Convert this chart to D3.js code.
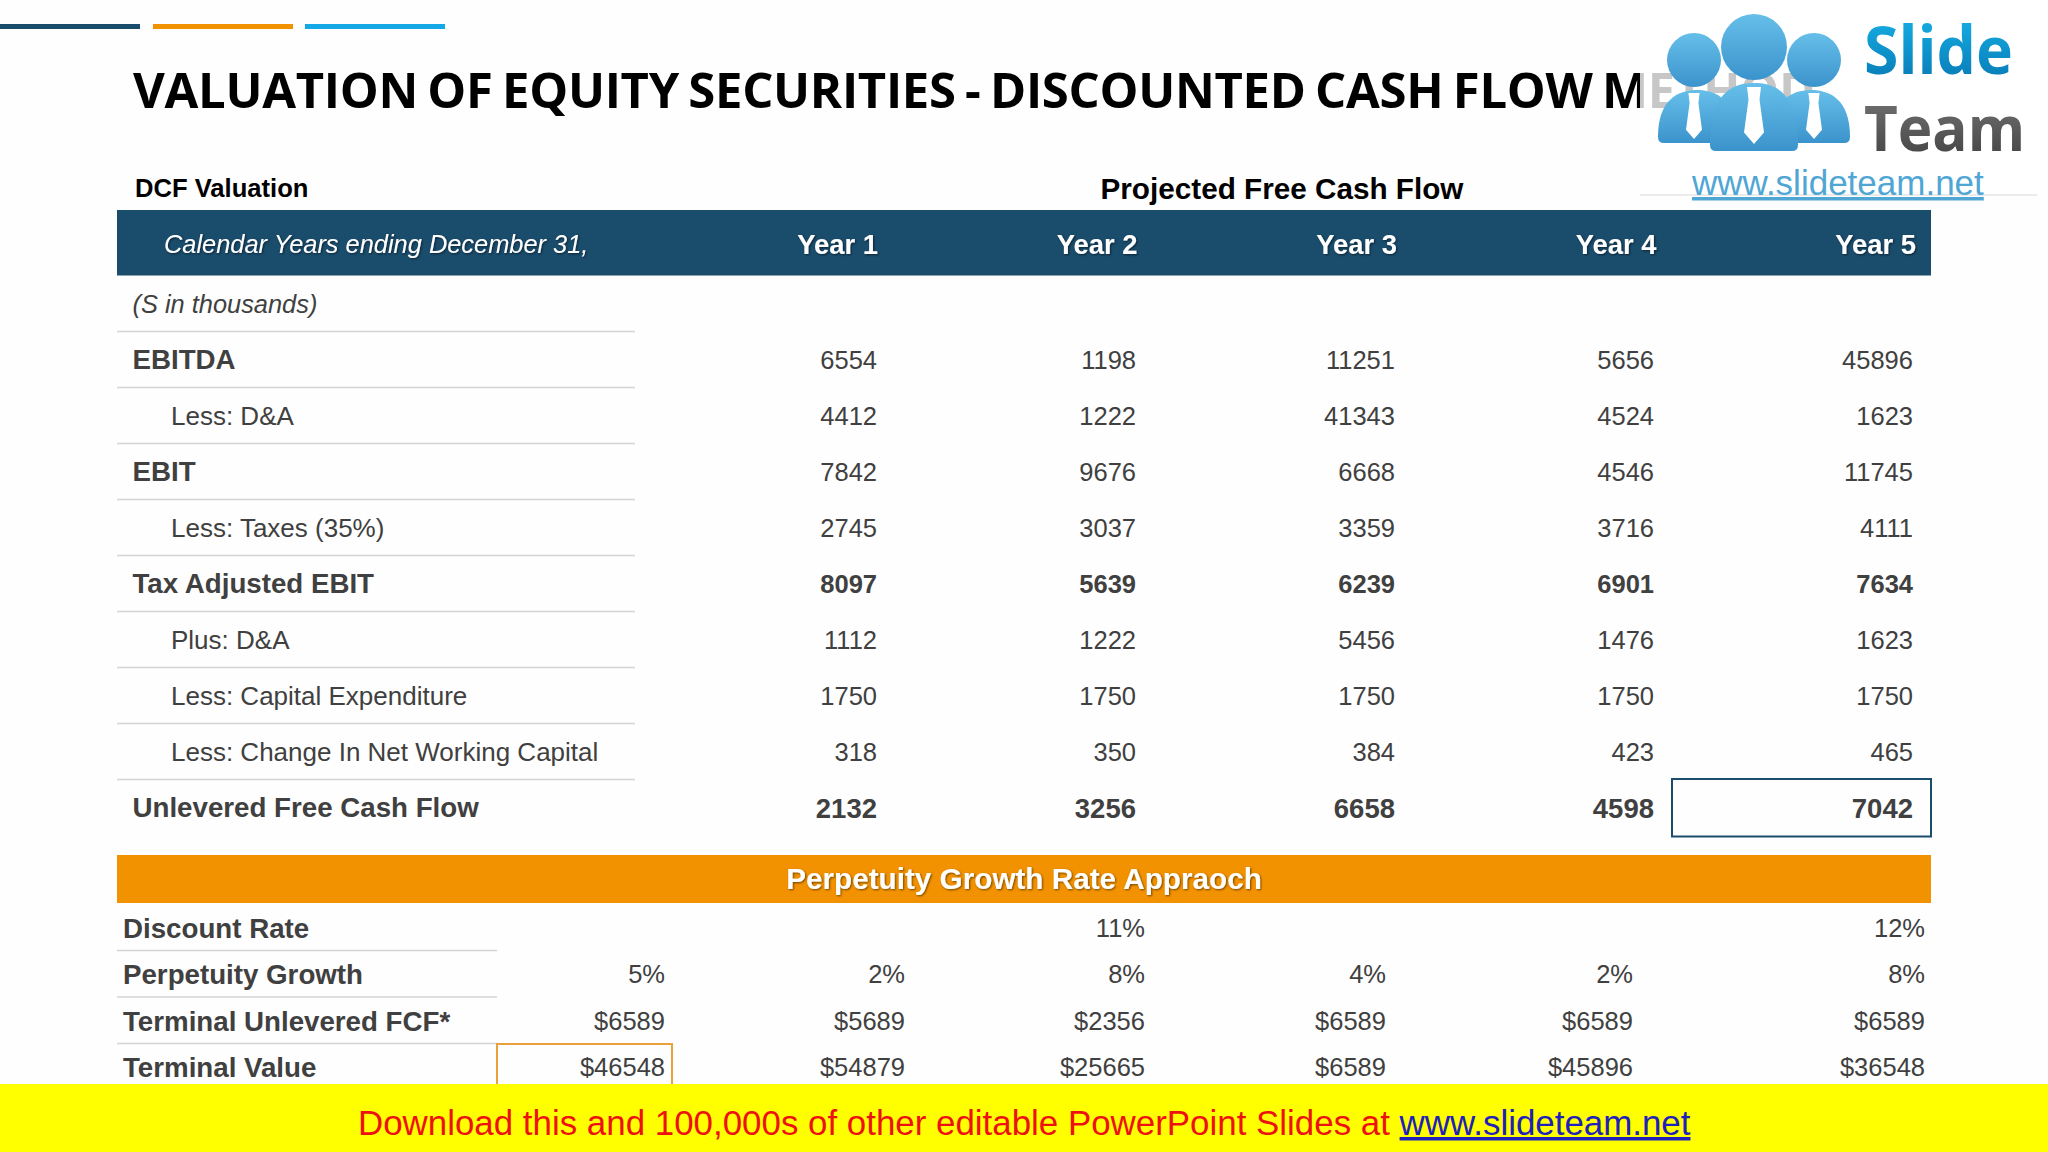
<!DOCTYPE html>
<html>
<head>
<meta charset="utf-8">
<script src="https://cdn.jsdelivr.net/npm/d3@7"></script>
<style>
  body { margin: 0; background: #fff; }
  text { font-family: "Liberation Sans", Arial, sans-serif; }
</style>
</head>
<body>
<main></main>
<script>
// table contents
const years = ["Year 1", "Year 2", "Year 3", "Year 4", "Year 5"];
const rowLabels = ["(S in thousands)", "EBITDA", "Less: D&A", "EBIT", "Less: Taxes (35%)", "Tax Adjusted EBIT",
  "Plus: D&A", "Less: Capital Expenditure", "Less: Change In Net Working Capital", "Unlevered Free Cash Flow"];
const boldRows = ["EBITDA", "EBIT", "Tax Adjusted EBIT", "Unlevered Free Cash Flow"];
const indentRows = ["Less: D&A", "Less: Taxes (35%)", "Plus: D&A", "Less: Capital Expenditure", "Less: Change In Net Working Capital"];
const boldValueRows = ["Tax Adjusted EBIT", "Unlevered Free Cash Flow"];

const ebitda = [6554, 1198, 11251, 5656, 45896];
const lessDA = [4412, 1222, 41343, 4524, 1623];
const ebit = [7842, 9676, 6668, 4546, 11745];
const taxes = [2745, 3037, 3359, 3716, 4111];
const taxAdjusted = [8097, 5639, 6239, 6901, 7634];
const plusDA = [1112, 1222, 5456, 1476, 1623];
const capex = [1750, 1750, 1750, 1750, 1750];
const changeNWC = [318, 350, 384, 423, 465];
const unlevered = [2132, 3256, 6658, 4598, 7042];

const rowValues = [[], ebitda, lessDA, ebit, taxes, taxAdjusted, plusDA, capex, changeNWC, unlevered];

const lowerLabels = ["Discount Rate", "Perpetuity Growth", "Terminal Unlevered FCF*", "Terminal Value"];
const discountRate = ["", "", "11%", "", "", "12%"];
const perpetuityGrowth = ["5%", "2%", "8%", "4%", "2%", "8%"];
const terminalFCF = ["$6589", "$5689", "$2356", "$6589", "$6589", "$6589"];
const terminalValue = ["$46548", "$54879", "$25665", "$6589", "$45896", "$36548"];
const lowerValues = [discountRate, perpetuityGrowth, terminalFCF, terminalValue];

const dark = "#1a4c6c", orange = "#f39200", ink = "#404040";
const tableLeft = 117, tableRight = 1931;

const svg = d3.select("main").append("svg")
  .attr("width", 2048).attr("height", 1152)
  .style("display", "block");

const defs = svg.append("defs");

// soft shadow used on the bar headings
const shadow = defs.append("filter").attr("id", "shadow");
shadow.append("feDropShadow").attr("dx", 1).attr("dy", 1).attr("stdDeviation", 0.8)
  .attr("flood-color", "#000").attr("flood-opacity", 0.55);

function addGradient(id, top, bottom) {
  const g = defs.append("linearGradient").attr("id", id).attr("x1", 0).attr("y1", 0).attr("x2", 0).attr("y2", 1);
  g.append("stop").attr("offset", "0%").attr("stop-color", top);
  g.append("stop").attr("offset", "100%").attr("stop-color", bottom);
}
addGradient("slideBlue", "#19b9ee", "#0571ad");
addGradient("teamGray", "#7a7a7a", "#3e3e3e");
addGradient("personBlue", "#66bfe9", "#3b93cc");

svg.append("rect").attr("width", 2048).attr("height", 1152).attr("fill", "#fefefe");

// three accent strokes at the top
svg.selectAll(".accent")
  .data([[0, dark], [153, orange], [305, "#14a9e6"]])
  .enter().append("rect")
  .attr("class", "accent")
  .attr("x", d => d[0]).attr("y", 24)
  .attr("width", 140).attr("height", 5)
  .attr("fill", d => d[1]);

// title runs under the logo
svg.append("text")
  .attr("x", 133).attr("y", 108)
  .attr("font-size", 49).attr("font-weight", 700)
  .attr("letter-spacing", -0.3).attr("word-spacing", -3)
  .style("font-family", "'Open Sans'")
  .attr("fill", "#000")
  .text("VALUATION OF EQUITY SECURITIES - DISCOUNTED CASH FLOW METHOD");

svg.append("text")
  .attr("x", 135).attr("y", 197)
  .attr("font-size", 25.6).attr("font-weight", 700).attr("fill", "#000")
  .text("DCF Valuation");

svg.append("text")
  .attr("x", 1282).attr("y", 199).attr("text-anchor", "middle")
  .attr("font-size", 29.7).attr("font-weight", 700).attr("fill", "#000")
  .text("Projected Free Cash Flow");

// header bar
svg.append("rect")
  .attr("x", tableLeft).attr("y", 210)
  .attr("width", tableRight - tableLeft).attr("height", 65.5)
  .attr("fill", dark);

svg.append("text")
  .attr("x", 164).attr("y", 244).attr("dy", "0.35em")
  .attr("font-size", 25.4).attr("font-style", "italic").attr("fill", "#fff")
  .attr("filter", "url(#shadow)")
  .text("Calendar Years ending December 31,");

const xCol = d3.scalePoint().domain(d3.range(5)).range([877, 1913]);
const xYear = d3.scalePoint().domain(years).range([878, 1916]);
const yRow = d3.scalePoint().domain(rowLabels).range([304, 808]);

svg.selectAll(".year")
  .data(years)
  .enter().append("text")
  .attr("class", "year")
  .attr("x", d => xYear(d)).attr("y", 244).attr("dy", "0.35em")
  .attr("text-anchor", "end")
  .attr("font-size", 27.4).attr("font-weight", 700).attr("fill", "#fff")
  .attr("filter", "url(#shadow)")
  .text(d => d);

// separators under each label except the last
svg.selectAll(".sep")
  .data(rowLabels.slice(0, -1))
  .enter().append("line")
  .attr("class", "sep")
  .attr("x1", tableLeft).attr("x2", 635)
  .attr("y1", d => yRow(d) + 27.5).attr("y2", d => yRow(d) + 27.5)
  .attr("stroke", "#d4d4d4").attr("stroke-width", 1.5);

svg.selectAll(".label")
  .data(rowLabels)
  .enter().append("text")
  .attr("class", "label")
  .attr("x", d => indentRows.includes(d) ? 171 : 132.5)
  .attr("y", d => yRow(d) - (boldRows.includes(d) ? 0.6 : 0)).attr("dy", "0.35em")
  .attr("font-size", d => boldRows.includes(d) ? 27.7 : d[0] === "(" ? 25.4 : 26)
  .attr("font-weight", d => boldRows.includes(d) ? 700 : 400)
  .attr("font-style", d => d[0] === "(" ? "italic" : "normal")
  .attr("fill", ink)
  .text(d => d);

rowValues.forEach((vals, r) => {
  const name = rowLabels[r];
  const bold = boldValueRows.includes(name);
  svg.selectAll(".v" + r)
    .data(vals)
    .enter().append("text")
    .attr("class", "v" + r)
    .attr("x", (d, i) => xCol(i)).attr("y", yRow(name)).attr("dy", "0.35em")
    .attr("text-anchor", "end")
    .attr("font-size", name === "Unlevered Free Cash Flow" ? 27.5 : 25.5)
    .attr("font-weight", bold ? 700 : 400)
    .attr("fill", ink)
    .text(d => d);
});

// outlined last cell
svg.append("rect")
  .attr("x", 1672).attr("y", 779)
  .attr("width", 259).attr("height", 57.5)
  .attr("fill", "none").attr("stroke", dark).attr("stroke-width", 2);

// perpetuity band
svg.append("rect")
  .attr("x", tableLeft).attr("y", 855)
  .attr("width", tableRight - tableLeft).attr("height", 48)
  .attr("fill", orange);

svg.append("text")
  .attr("x", 1024).attr("y", 879).attr("dy", "0.35em")
  .attr("text-anchor", "middle")
  .attr("font-size", 29.7).attr("font-weight", 700).attr("fill", "#fff")
  .attr("filter", "url(#shadow)")
  .text("Perpetuity Growth Rate Appraoch");

const xLower = d3.scaleOrdinal().domain(d3.range(6)).range([665, 905, 1145, 1386, 1633, 1925]);
const yLower = d3.scalePoint().domain(lowerLabels).range([928, 1067.5]);

svg.selectAll(".lowerSep")
  .data(lowerLabels.slice(0, -1))
  .enter().append("line")
  .attr("class", "lowerSep")
  .attr("x1", tableLeft).attr("x2", 497)
  .attr("y1", d => yLower(d) + 22.5).attr("y2", d => yLower(d) + 22.5)
  .attr("stroke", "#d4d4d4").attr("stroke-width", 1.5);

svg.selectAll(".lowerLabel")
  .data(lowerLabels)
  .enter().append("text")
  .attr("class", "lowerLabel")
  .attr("x", 123).attr("y", d => yLower(d)).attr("dy", "0.35em")
  .attr("font-size", 27.7).attr("font-weight", 700).attr("fill", ink)
  .text(d => d);

lowerValues.forEach((vals, r) => {
  svg.selectAll(".lv" + r)
    .data(vals)
    .enter().append("text")
    .attr("class", "lv" + r)
    .attr("x", (d, i) => xLower(i)).attr("y", yLower(lowerLabels[r])).attr("dy", "0.35em")
    .attr("text-anchor", "end")
    .attr("font-size", 25.5).attr("fill", ink)
    .text(d => d);
});

svg.append("rect")
  .attr("x", 497).attr("y", 1044)
  .attr("width", 175).attr("height", 60)
  .attr("fill", "none").attr("stroke", "#e9a23b").attr("stroke-width", 2);

// yellow download strip
svg.append("rect")
  .attr("x", 0).attr("y", 1084)
  .attr("width", 2048).attr("height", 68)
  .attr("fill", "#ffff00");

const promo = svg.append("text")
  .attr("x", 358).attr("y", 1135)
  .attr("font-size", 34.9).attr("fill", "#ee1111");
promo.append("tspan").text("Download this and 100,000s of other editable PowerPoint Slides at ");
promo.append("tspan").attr("fill", "#2020bb").attr("text-decoration", "underline").text("www.slideteam.net");

// logo block sits over the end of the title
const logo = svg.append("g");
logo.append("rect").attr("x", 1640).attr("y", 0).attr("width", 400).attr("height", 195)
  .attr("fill", "#fff").attr("opacity", 0.78);
logo.append("line").attr("x1", 1640).attr("x2", 2037).attr("y1", 195).attr("y2", 195)
  .attr("stroke", "#d8d8d8").attr("stroke-width", 1);

const person = (cx, top, halfW, bottom) =>
  `M${cx - halfW},${bottom - 6} C${cx - halfW},${top + 10} ${cx - halfW * 0.5},${top} ${cx},${top} ` +
  `C${cx + halfW * 0.5},${top} ${cx + halfW},${top + 10} ${cx + halfW},${bottom - 6} ` +
  `Q${cx + halfW},${bottom} ${cx + halfW - 6},${bottom} L${cx - halfW + 6},${bottom} Q${cx - halfW},${bottom} ${cx - halfW},${bottom - 6} Z`;
const tie = (cx, top, w, h) =>
  `M${cx - w * 0.7},${top} L${cx + w * 0.7},${top} L${cx + w * 0.55},${top + h * 0.22} L${cx + w},${top + h * 0.8} ` +
  `L${cx},${top + h} L${cx - w},${top + h * 0.8} L${cx - w * 0.55},${top + h * 0.22} Z`;

[[1694, 60, 27, 1697, 90, 39, 143, 93, 8, 46], [1814, 60, 27, 1811, 90, 39, 143, 93, 8, 46]].forEach(p => {
  logo.append("path").attr("d", person(p[3], p[4], p[5], p[6])).attr("fill", "url(#personBlue)");
  logo.append("path").attr("d", tie(p[3] - (p[3] < 1754 ? 3 : -3), p[7], p[8], p[9])).attr("fill", "#fff");
  logo.append("circle").attr("cx", p[0]).attr("cy", p[1]).attr("r", p[2]).attr("fill", "url(#personBlue)");
});
logo.append("path").attr("d", person(1754, 83, 44, 151)).attr("fill", "url(#personBlue)");
logo.append("path").attr("d", tie(1754, 87, 10, 57)).attr("fill", "#fff");
logo.append("circle").attr("cx", 1754).attr("cy", 47).attr("r", 33).attr("fill", "url(#personBlue)");

logo.append("text").attr("x", 1864).attr("y", 74)
  .attr("font-size", 67).attr("font-weight", 700).style("font-family", "'Open Sans'")
  .attr("textLength", 149).attr("lengthAdjust", "spacingAndGlyphs")
  .attr("fill", "url(#slideBlue)").text("Slide");
logo.append("text").attr("x", 1864).attr("y", 151)
  .attr("font-size", 63).attr("font-weight", 700).style("font-family", "'Open Sans'")
  .attr("textLength", 161).attr("lengthAdjust", "spacingAndGlyphs")
  .attr("fill", "url(#teamGray)").text("Team");
logo.append("text").attr("x", 1692).attr("y", 195)
  .attr("font-size", 35).attr("fill", "#4fa6d5").attr("text-decoration", "underline")
  .text("www.slideteam.net");
</script>
</body>
</html>
